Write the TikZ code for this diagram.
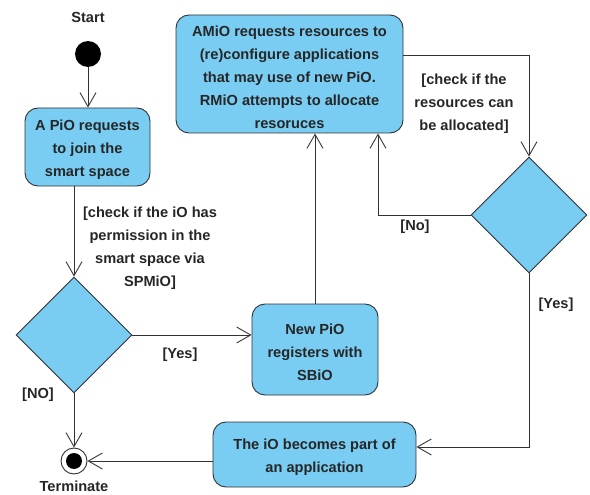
\documentclass[tikz,border=0pt]{standalone}
\usepackage{fontspec}
\setmainfont{Liberation Sans}
\usetikzlibrary{arrows.meta,shapes.geometric}
\definecolor{actfill}{RGB}{121,205,242}
\definecolor{edge}{RGB}{50,50,50}
\begin{document}
\begin{tikzpicture}[x=1pt,y=-1pt,
  txt/.style={font=\fontsize{14.6}{23}\selectfont\bfseries, text=black!85, align=center},
  act/.style={draw=edge, fill=actfill, line width=0.9pt, rounded corners=13pt, inner sep=0pt},
  acttext/.style={txt, yshift=-3pt},
  dec/.style={diamond, aspect=1, draw=edge, fill=actfill, line width=0.9pt,
              minimum width=116pt, minimum height=116pt, inner sep=0pt},
  flow/.style={draw=edge, line width=0.9pt, -{Straight Barb[length=14pt,width=16pt]}}]
\useasboundingbox (0,0) rectangle (590,495);

% initial and final states
\node[txt] (lstart) at (88,17) {Start};
\node[circle, fill=black, minimum size=26pt, inner sep=0pt] (startdot) at (88,54) {};
\node[circle, draw=edge, line width=0.9pt, fill=white, minimum size=26pt, inner sep=0pt] (fin) at (74,461) {};
\node[circle, fill=black, minimum size=16pt, inner sep=0pt] (findot) at (fin) {};
\node[txt] (lterm) at (74,486) {Terminate};

% actions: rounded boxes with their text set slightly below centre
\node[act, minimum width=125pt, minimum height=78pt] (join) at (87.5,147) {};
\node[acttext] (jointext) at (join) {A PiO requests\\to join the\\smart space};
\node[act, minimum width=227pt, minimum height=118pt] (amio) at (289.5,74) {};
\node[acttext] (amiotext) at (amio)
  {AMiO requests resources to\\(re)configure applications\\that may use of new PiO.\\RMiO attempts to allocate\\resoruces};
\node[act, minimum width=126pt, minimum height=91pt] (reg) at (315,349.5) {};
\node[acttext] (regtext) at (reg) {New PiO\\registers with\\SBiO};
\node[act, minimum width=203pt, minimum height=65pt] (part) at (314.5,454.5) {};
\node[acttext] (parttext) at (part) {The iO becomes part of\\an application};

% decisions
\node[dec] (d1) at (74,335) {};
\node[dec] (d2) at (529,215) {};

% guards
\node[txt] (g1) at (150,248) {[check if the iO has\\permission in the\\smart space via\\SPMiO]};
\node[txt] (g2) at (464,104) {[check if the\\resources can\\be allocated]};
\node[txt] (lyes1) at (180,355) {[Yes]};
\node[txt] (lno1) at (38,395) {[NO]};
\node[txt] (lno2) at (415,227) {[No]};
\node[txt] (lyes2) at (556,305) {[Yes]};

% bend points
\coordinate (c1) at (529,55);
\coordinate (c2) at (378,215);
\coordinate (c3) at (529,447);

% flows
\draw[flow] (startdot) -- (join.north -| startdot);
\draw[flow] (join.south -| d1.north) -- (d1.north);
\draw[flow] (d1.east) -- (d1.east -| reg.west);
\draw[flow] (d1.south) -- (fin);
\draw[flow] (reg.north) -- (reg.north |- amio.south);
\draw[flow] (amio.east |- c1) -- (c1) -- (d2.north);
\draw[flow] (d2.west) -- (c2) -- (c2 |- amio.south);
\draw[flow] (d2.south) -- (c3) -- (c3 -| part.east);
\draw[flow] (part.west |- fin) -- (fin);
\end{tikzpicture}
\end{document}
